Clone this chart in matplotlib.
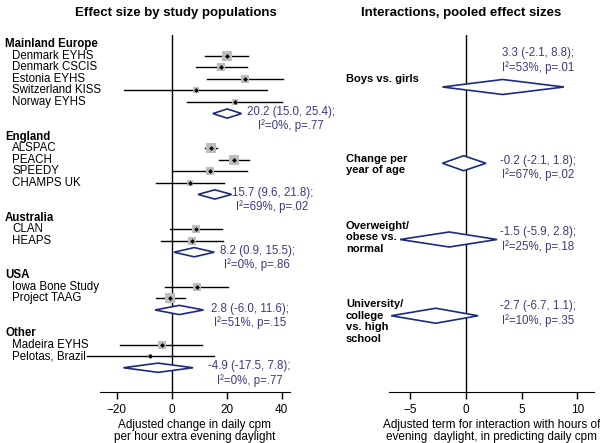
import numpy as np
import matplotlib
matplotlib.use("Agg")
import matplotlib.pyplot as plt
from matplotlib.patches import Polygon

plt.rcParams['font.family'] = ['Liberation Sans', 'DejaVu Sans']
plt.rcParams['font.size'] = 8

# ....... Data ........

groups = ["Mainland Europe", "England", "Australia", "USA", "Other"]
studies = [
    ["Denmark EYHS", "Denmark CSCIS", "Estonia EYHS", "Switzerland KISS", "Norway EYHS"],
    ["ALSPAC", "PEACH", "SPEEDY", "CHAMPS UK"],
    ["CLAN", "HEAPS"],
    ["Iowa Bone Study", "Project TAAG"],
    ["Madeira EYHS", "Pelotas, Brazil"],
]
est = [
    [20.0, 18.0, 26.6, 8.7, 22.9],
    [14.2, 22.7, 13.8, 6.7],
    [8.7, 7.3],
    [9.1, -0.4],
    [-3.6, -7.9],
]
lo = [
    [12.0, 8.7, 13.0, -17.4, 5.7],
    [12.0, 17.2, 0.0, -5.8],
    [-0.6, -4.0],
    [-2.5, -5.8],
    [-18.8, -30.9],
]
hi = [
    [27.8, 27.5, 40.4, 34.8, 40.0],
    [16.6, 28.1, 27.5, 19.0],
    [18.2, 18.8],
    [20.6, 4.8],
    [11.2, 15.4],
]
weight = [
    [9, 8, 7, 5, 6],
    [9, 10, 7, 6],
    [7, 7],
    [7, 9],
    [7, 4],
]
pooled = [20.2, 15.7, 8.2, 2.8, -4.9]
pooled_lo = [15.0, 9.6, 0.9, -6.0, -17.5]
pooled_hi = [25.4, 21.8, 15.5, 11.6, 7.8]
pooled_i2 = ["0%", "69%", "0%", "51%", "0%"]
pooled_p = [".77", ".02", ".86", ".15", ".77"]

inter_labels = ["Boys vs. girls", "Change per\nyear of age",
                "Overweight/\nobese vs.\nnormal",
                "University/\ncollege\nvs. high\nschool"]
inter_est = [3.3, -0.2, -1.5, -2.7]
inter_lo = [-2.1, -2.1, -5.9, -6.7]
inter_hi = [8.8, 1.8, 2.8, 1.1]
inter_i2 = ["53%", "67%", "25%", "10%"]
inter_p = [".01", ".02", ".18", ".35"]

navy = '#1c2a80'
textblue = '#3a3a8c'

def fmt(v):
    return f"{v:.1f}"

def diamond(ax, centre, low, high, y, h):
    pts = [(low, y), (centre, y - h), (high, y), (centre, y + h)]
    ax.add_patch(Polygon(pts, closed=True, facecolor='white',
                         edgecolor=navy, linewidth=1.2, zorder=3))

def style_axis(ax):
    for side in ['top', 'right', 'left']:
        ax.spines[side].set_visible(False)
    ax.set_yticks([])
    ax.tick_params(axis='x', direction='out', length=5, width=1, labelsize=8.5)
    ax.axvline(0, color='k', linewidth=1, zorder=1)
    ax.set_ylim(30.1, -0.8)

fig = plt.figure(figsize=(6, 4.43), dpi=100)

# ....... Left panel ........
ax1 = fig.add_axes([100 / 600, 1 - 392 / 443, 190 / 600, 357 / 443])
style_axis(ax1)
ax1.set_xlim(-26, 43)
ax1.set_xticks([-20, 0, 20, 40])
ax1.set_xlabel("Adjusted change in daily cpm\nper hour extra evening daylight",
               fontsize=8.5, labelpad=2, linespacing=1.1)

label_x = [27.3, 21.8, 17.5, 14.2, 13.3]
trans = ax1.get_yaxis_transform()
row = 0
for g in range(len(groups)):
    ax1.text(-0.5, row, groups[g], transform=trans, fontweight='bold',
             va='center', ha='left', fontsize=8.3)
    row += 1
    for k in range(len(studies[g])):
        ax1.text(-0.463, row, studies[g][k], transform=trans, va='center',
                 ha='left', fontsize=8.3)
        ax1.plot([lo[g][k], hi[g][k]], [row, row], color='k', linewidth=1,
                 zorder=2, clip_on=False)
        ax1.scatter([est[g][k]], [row], marker='s', s=weight[g][k] ** 2 * 0.55,
                    color='#bdbdbd', zorder=3, linewidths=0)
        ax1.scatter([est[g][k]], [row], marker='D', s=6, color='k', zorder=4,
                    linewidths=0)
        row += 1
    diamond(ax1, pooled[g], pooled_lo[g], pooled_hi[g], row, 0.4)
    txt = (f"{fmt(pooled[g])} ({fmt(pooled_lo[g])}, {fmt(pooled_hi[g])});\n"
           f"I\u00b2={pooled_i2[g]}, p={pooled_p[g]}")
    ax1.text(label_x[g], row + 0.5, txt, color=textblue, va='center',
             ha='left', multialignment='center', fontsize=8.3, linespacing=1.15)
    row += 2

ax1.set_title("Effect size by study populations", fontweight='bold',
              fontsize=9.5, x=0.4, y=1.0, pad=14)

# ....... Right panel ........
ax2 = fig.add_axes([389 / 600, 1 - 392 / 443, 205 / 600, 357 / 443])
style_axis(ax2)
ax2.set_xlim(-6.9, 11.5)
ax2.set_xticks([-5, 0, 5, 10])
ax2.set_xlabel("Adjusted term for interaction with hours of\n"
               "evening  daylight, in predicting daily cpm",
               fontsize=8.5, labelpad=2, linespacing=1.1)

inter_rows = [3.7, 10.3, 16.9, 23.5]
text_rows = [1.4, 10.7, 16.9, 23.3]
label_rows = [3.0, 10.4, 16.7, 24.0]
trans2 = ax2.get_yaxis_transform()
for i in range(len(inter_labels)):
    diamond(ax2, inter_est[i], inter_lo[i], inter_hi[i], inter_rows[i], 0.65)
    txt = (f"{fmt(inter_est[i])} ({fmt(inter_lo[i])}, {fmt(inter_hi[i])});\n"
           f"I\u00b2={inter_i2[i]}, p={inter_p[i]}")
    ax2.text(6.5, text_rows[i], txt, color=textblue, va='center', ha='center',
             fontsize=8.3, linespacing=1.15)
    ax2.text(-0.21, label_rows[i], inter_labels[i], transform=trans2,
             fontweight='bold', va='center', ha='left', fontsize=8.0,
             linespacing=1.2)

ax2.set_title("Interactions, pooled effect sizes", fontweight='bold',
              fontsize=9.5, x=0.35, y=1.0, pad=14)

fig.savefig("out.png", dpi=100)
